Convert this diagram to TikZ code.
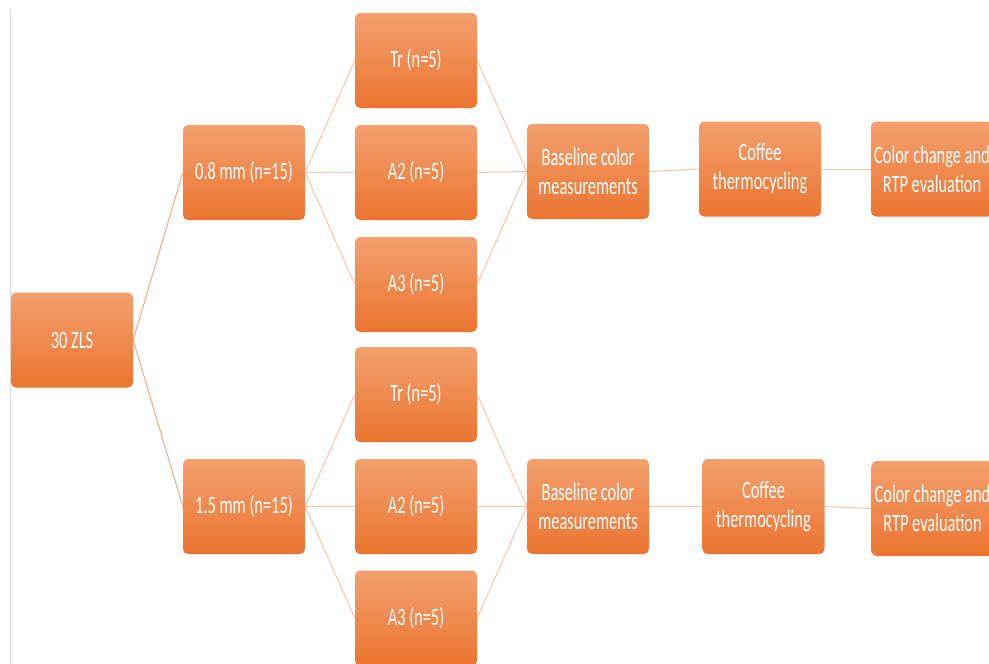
\documentclass[tikz,border=0pt]{standalone}
\usepackage{fontspec}
\newfontfamily\boxfont{Carlito}[FakeStretch=0.655]
\definecolor{boxtop}{RGB}{243,160,110}
\definecolor{boxbot}{RGB}{236,116,48}
\definecolor{lineA}{RGB}{244,168,128}
\definecolor{lineB}{RGB}{247,196,170}
\definecolor{edgegray}{RGB}{217,217,217}
\tikzset{
  box/.style={rectangle, rounded corners=5pt, top color=boxtop, bottom color=boxbot,
    draw=none, minimum width=122pt, minimum height=95pt, inner sep=0pt,
    text=white, align=center, font=\boxfont\fontsize{25}{29}\selectfont},
  linkA/.style={draw=lineA, line width=1pt},
  linkB/.style={draw=lineB, line width=1pt}
}
\begin{document}
\begin{tikzpicture}[x=1pt,y=-1pt]
\clip (0,0) rectangle (989,664);
\fill[white] (0,0) rectangle (989,664);
\draw[edgegray, line width=1.5pt] (10.5,10) -- (10.5,664);

\node[box] (zls) at (72,340) {30 ZLS};
\node[box] (m08) at (244,172.5) {0.8 mm (n=15)};
\node[box] (m15) at (244,506.5) {1.5 mm (n=15)};

\node[box] (tr1) at (416,60.5) {Tr (n=5)};
\node[box] (a21) at (416,172.5) {A2 (n=5)};
\node[box] (a31) at (416,284.5) {A3 (n=5)};
\node[box] (tr2) at (416,394.5) {Tr (n=5)};
\node[box] (a22) at (416,506.5) {A2 (n=5)};
\node[box] (a32) at (416,618) {A3 (n=5)};

\node[box] (bl1) at (588,171.5) {Baseline color\\measurements};
\node[box] (cf1) at (760,169) {Coffee\\thermocycling};
\node[box] (cc1) at (932,169) {Color change and\\RTP evaluation};
\node[box] (bl2) at (588,506.5) {Baseline color\\measurements};
\node[box] (cf2) at (763.5,506.5) {Coffee\\thermocycling};
\node[box] (cc2) at (932.5,508.5) {Color change and\\RTP evaluation};

\path[linkA] (zls.east) -- (m08.west);
\path[linkA] (zls.east) -- (m15.west);
\foreach \t in {tr1,a21,a31} {\path[linkB] (m08.east) -- (\t.west);}
\foreach \t in {tr2,a22,a32} {\path[linkB] (m15.east) -- (\t.west);}
\foreach \t in {tr1,a21,a31} {\path[linkB] (\t.east) -- (bl1.west);}
\foreach \t in {tr2,a22,a32} {\path[linkB] (\t.east) -- (bl2.west);}
\path[linkB] (bl1.east) -- (cf1.west);
\path[linkB] (cf1.east) -- (cc1.west);
\path[linkB] (bl2.east) -- (cf2.west);
\path[linkB] (cf2.east) -- (cc2.west);
\end{tikzpicture}
\end{document}
